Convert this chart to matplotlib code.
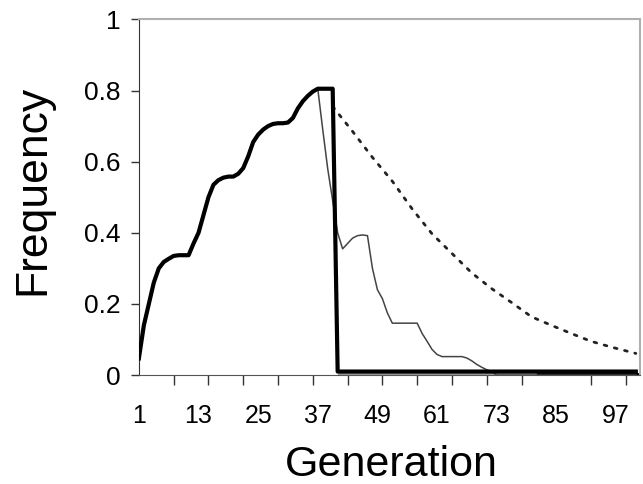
import matplotlib
matplotlib.use('Agg')
import matplotlib.pyplot as plt
import numpy as np

plt.rcParams['font.family'] = ['Liberation Sans', 'DejaVu Sans']

# thick line (frequency, generations 1..101)
thick_gen = list(range(1, 102))
thick_freq = [0.047, 0.14, 0.20, 0.26, 0.30, 0.318, 0.327, 0.335, 0.337, 0.337,
              0.337, 0.37, 0.40, 0.45, 0.50, 0.535, 0.548, 0.555, 0.558, 0.558,
              0.566, 0.582, 0.615, 0.655, 0.676, 0.69, 0.70, 0.706, 0.708, 0.708,
              0.71, 0.723, 0.75, 0.77, 0.785, 0.797, 0.805, 0.805, 0.805, 0.805] \
             + [0.01] * 61

# thin line
thin_gen = list(range(1, 102))
thin_freq = thick_freq[:37] + [0.69, 0.58, 0.49, 0.40, 0.355, 0.37, 0.385, 0.392,
                               0.394, 0.392, 0.30, 0.24, 0.215, 0.175, 0.146, 0.146,
                               0.146, 0.146, 0.146, 0.146, 0.117, 0.095, 0.072, 0.058,
                               0.052, 0.052, 0.052, 0.052, 0.052, 0.048, 0.04, 0.03,
                               0.022, 0.015, 0.01] + [0.0] * 29

# dotted line
dot_gen = [40, 44, 48, 52, 56, 60, 64, 68, 72, 76, 80, 84, 88, 92, 96, 101]
dot_freq = [0.755, 0.685, 0.612, 0.545, 0.467, 0.397, 0.342, 0.287, 0.243, 0.204,
            0.164, 0.14, 0.117, 0.095, 0.079, 0.061]

# grey and black bits along the bottom
grey_gen = [41, 81]
grey_freq = [0.0, 0.0]
tail_gen = [81, 101.8]
tail_freq = [0.0, 0.0]

xticks_lab = list(range(1, 98, 12))
xticks_mark = list(range(1, 100, 7))
yticks = [0, 0.2, 0.4, 0.6, 0.8, 1]
ylabels = ['0', '0.2', '0.4', '0.6', '0.8', '1']

fig = plt.figure(figsize=(6.43, 4.84), dpi=100)
ax = fig.add_axes([0.216, 0.225, 0.779, 0.735])

ax.plot(grey_gen, grey_freq, color='#9a9a9a', lw=3, solid_capstyle='butt', zorder=2)
ax.plot(tail_gen, tail_freq, color='black', lw=3.5, solid_capstyle='butt', zorder=2)
ax.plot(dot_gen, dot_freq, color='#222222', lw=2, linestyle=(0, (1, 2.8)),
        dash_capstyle='round', zorder=3)
ax.plot(thin_gen, thin_freq, color='#444444', lw=1.1, zorder=3)
ax.plot(thick_gen, thick_freq, color='black', lw=3, zorder=4)

ax.set_xlim(1, 101.8)
ax.set_ylim(0, 1)

ax.set_xticks(xticks_lab)
ax.set_xticks(xticks_mark, minor=True)
ax.tick_params(axis='x', which='major', length=0, pad=21, labelsize=18)
ax.tick_params(axis='x', which='minor', length=7, width=1, color='#333333', direction='out')
ax.set_yticks(yticks)
ax.set_yticklabels(ylabels)
ax.tick_params(axis='y', length=6, width=1, color='#333333', pad=7, labelsize=19)

for s in ['top', 'right']:
    ax.spines[s].set_color('#b0b0b0')
    ax.spines[s].set_linewidth(1.5)
ax.spines['left'].set_color('#333333')
ax.spines['bottom'].set_color('#555555')

fig.text(391 / 643, 1 - 476 / 484, 'Generation', fontsize=31, ha='center', va='baseline')
fig.text(33 / 643, 1 - 190 / 484, 'Frequency', fontsize=32, ha='center', va='center',
         rotation=90)

fig.savefig('out.png', dpi=100)
